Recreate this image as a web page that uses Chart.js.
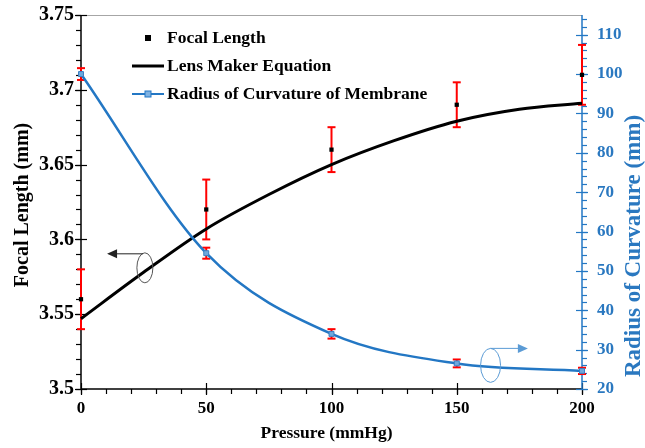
<!DOCTYPE html>
<html>
<head>
<meta charset="utf-8">
<script src="https://cdn.jsdelivr.net/npm/chart.js@4.4.1/dist/chart.umd.min.js"></script>
<style>
    html, body { margin: 0; padding: 0; background: #fff; }
    #wrap { width: 645px; height: 448px; position: relative; }
</style>
</head>
<body>
<div id="wrap"><canvas id="focal-chart"></canvas></div>
<script>
// --- Data ---
const pressure = [0, 50, 100, 150, 200];
const focalLength = [3.56, 3.62, 3.66, 3.69, 3.71];
const focalError = [0.02, 0.02, 0.015, 0.015, 0.02];

const lensPressure = [0, 25, 50, 75, 100, 125, 150, 175, 200];
const lensMaker = [3.547, 3.578, 3.607, 3.630, 3.650, 3.666, 3.679, 3.687, 3.691];

const radius = [100, 54.5, 34, 26.5, 24.6];
const radiusError = [1.5, 1.4, 1.2, 1, 0.8];

const xTicks = [0, 50, 100, 150, 200];
const yTicks = [3.5, 3.55, 3.6, 3.65, 3.7, 3.75];
const y2Ticks = [20, 30, 40, 50, 60, 70, 80, 90, 100, 110];

const BLUE = '#2377c4';
const BLUE_TEXT = '#2a78c0';
const FONT = '"Liberation Serif", "Times New Roman", serif';

const runPage = () => {
    const toPoints = (xs, ys) => xs.map((x, i) => ({ x, y: ys[i] }));
    const fixTicks = list => scale => { scale.ticks = list.map(v => ({ value: v })); };
    const noPad = size => scale => {
        Object.assign(scale, size);
        scale.paddingTop = 0;
        scale.paddingBottom = 0;
        scale.paddingLeft = 0;
        scale.paddingRight = 0;
    };

    // --- Axes, ticks, error bars, legend, titles and the two arrow notes ---
    const decor = {
        id: 'decor',
        beforeDatasetsDraw(chart) {
            const { ctx, chartArea: a, scales } = chart;
            const { x, y, y2 } = scales;
            ctx.save();

            // frame top line
            ctx.strokeStyle = '#a6a6a6';
            ctx.lineWidth = 1;
            ctx.beginPath();
            ctx.moveTo(a.left, a.top + 0.5);
            ctx.lineTo(a.right, a.top + 0.5);
            ctx.stroke();

            const tick = (x1, y1, x2, y2p) => {
                ctx.beginPath();
                ctx.moveTo(x1, y1);
                ctx.lineTo(x2, y2p);
                ctx.stroke();
            };

            // left axis
            ctx.strokeStyle = '#000';
            ctx.lineWidth = 1.5;
            tick(a.left, a.top, a.left, a.bottom);
            ctx.lineWidth = 1.2;
            for (let v = 3.5; v <= 3.7501; v += 0.01) {
                const p = Math.round(y.getPixelForValue(v)) + 0.5;
                tick(a.left - 5, p, a.left, p);
            }
            yTicks.forEach(v => {
                const p = Math.round(y.getPixelForValue(v)) + 0.5;
                tick(a.left - 6, p, a.left + 6, p);
            });

            // bottom axis
            ctx.lineWidth = 1.5;
            tick(a.left, a.bottom, a.right, a.bottom);
            ctx.lineWidth = 1.2;
            for (let v = 0; v <= 200; v += 10) {
                const p = Math.round(x.getPixelForValue(v)) + 0.5;
                tick(p, a.bottom, p, a.bottom + 5);
            }
            xTicks.forEach(v => {
                const p = Math.round(x.getPixelForValue(v)) + 0.5;
                tick(p, a.bottom - 6, p, a.bottom + 6);
            });

            // right axis
            ctx.strokeStyle = BLUE;
            ctx.lineWidth = 1.5;
            tick(a.right, a.top, a.right, a.bottom);
            ctx.lineWidth = 1.2;
            for (let v = 20; v <= 115; v += 2) {
                const p = Math.round(y2.getPixelForValue(v)) + 0.5;
                tick(a.right, p, a.right + 5, p);
            }
            y2Ticks.forEach(v => {
                const p = Math.round(y2.getPixelForValue(v)) + 0.5;
                tick(a.right - 6, p, a.right + 6, p);
            });

            // red error bars
            ctx.strokeStyle = '#ff0000';
            ctx.lineWidth = 2;
            const errBar = (scale, px, val, err) => {
                const top = scale.getPixelForValue(val + err);
                const bot = scale.getPixelForValue(val - err);
                tick(px, top, px, bot);
                tick(px - 4, top, px + 4, top);
                tick(px - 4, bot, px + 4, bot);
            };
            pressure.forEach((p, i) => {
                const px = x.getPixelForValue(p);
                errBar(y, px, focalLength[i], focalError[i]);
                errBar(y2, px, radius[i], radiusError[i]);
            });
            ctx.restore();
        },
        afterDraw(chart) {
            const { ctx, chartArea: a, scales } = chart;
            const { x, y, y2 } = scales;
            const sets = chart.data.datasets;
            ctx.save();

            // legend
            ctx.font = `bold 17.5px ${FONT}`;
            ctx.textBaseline = 'middle';
            ctx.textAlign = 'left';
            ctx.fillStyle = '#000';
            const lx = a.left + 51;
            const tx = a.left + 86;
            const rows = [a.top + 23, a.top + 51, a.top + 79];
            ctx.fillRect(a.left + 64, rows[0] - 3, 6, 6);
            ctx.fillText(sets[0].label, tx, rows[0]);
            ctx.strokeStyle = '#000';
            ctx.lineWidth = 3;
            ctx.beginPath();
            ctx.moveTo(lx, rows[1]);
            ctx.lineTo(lx + 32, rows[1]);
            ctx.stroke();
            ctx.fillText(sets[1].label, tx, rows[1]);
            ctx.strokeStyle = BLUE;
            ctx.lineWidth = 2;
            ctx.beginPath();
            ctx.moveTo(lx, rows[2]);
            ctx.lineTo(lx + 32, rows[2]);
            ctx.stroke();
            ctx.fillStyle = '#7fb2e2';
            ctx.fillRect(lx + 13, rows[2] - 3, 6, 6);
            ctx.lineWidth = 1;
            ctx.strokeRect(lx + 13, rows[2] - 3, 6, 6);
            ctx.fillStyle = '#000';
            ctx.fillText(sets[2].label, tx, rows[2]);

            // axis titles
            ctx.textAlign = 'center';
            ctx.fillText('Pressure (mmHg)', (a.left + a.right) / 2 - 5, 433);
            ctx.font = `bold 20px ${FONT}`;
            ctx.save();
            ctx.translate(23, 205);
            ctx.rotate(-Math.PI / 2);
            ctx.fillText('Focal Length (mm)', 0, 0);
            ctx.restore();
            ctx.save();
            ctx.font = `bold 23px ${FONT}`;
            ctx.fillStyle = BLUE_TEXT;
            ctx.translate(634, 246);
            ctx.rotate(-Math.PI / 2);
            ctx.fillText('Radius of Curvature (mm)', 0, 0);
            ctx.restore();

            // arrow notes
            const arrow = (x0, x1, yy, color) => {
                ctx.strokeStyle = color;
                ctx.fillStyle = color;
                ctx.lineWidth = 1;
                const dir = Math.sign(x1 - x0);
                ctx.beginPath();
                ctx.moveTo(x0, yy);
                ctx.lineTo(x1 - dir * 8, yy);
                ctx.stroke();
                ctx.beginPath();
                ctx.moveTo(x1, yy);
                ctx.lineTo(x1 - dir * 10, yy - 4.5);
                ctx.lineTo(x1 - dir * 10, yy + 4.5);
                ctx.closePath();
                ctx.fill();
            };
            const ellipse = (cx, cy, rx, ry, color) => {
                ctx.strokeStyle = color;
                ctx.lineWidth = 1;
                ctx.beginPath();
                ctx.ellipse(cx, cy, rx, ry, 0, 0, Math.PI * 2);
                ctx.stroke();
            };
            const lcx = x.getPixelForValue(25.5);
            const lcy = y.getPixelForValue(3.581);
            ellipse(lcx, lcy, 8, 15, '#555');
            arrow(lcx - 2, x.getPixelForValue(10.4), lcy - 14, '#222');
            const rcx = x.getPixelForValue(163.5);
            const rcy = y2.getPixelForValue(26);
            ellipse(rcx, rcy, 10, 17, '#5b9bd5');
            arrow(rcx, x.getPixelForValue(178.4), rcy - 17, '#5b9bd5');

            ctx.restore();
        }
    };

    const ctx = document.getElementById('focal-chart').getContext('2d');
    new Chart(ctx, {
        type: 'line',
        data: {
            datasets: [
                {
                    label: 'Focal Length',
                    data: toPoints(pressure, focalLength),
                    yAxisID: 'y',
                    showLine: false,
                    pointStyle: 'rect',
                    pointRadius: 3,
                    backgroundColor: '#000',
                    borderColor: '#000',
                    borderWidth: 0,
                    clip: false,
                    order: 0
                },
                {
                    label: 'Lens Maker Equation',
                    data: toPoints(lensPressure, lensMaker),
                    yAxisID: 'y',
                    borderColor: '#000',
                    borderWidth: 3,
                    pointRadius: 0,
                    cubicInterpolationMode: 'monotone',
                    clip: false,
                    order: 2
                },
                {
                    label: 'Radius of Curvature of Membrane',
                    data: toPoints(pressure, radius),
                    yAxisID: 'y2',
                    borderColor: BLUE,
                    borderWidth: 2.5,
                    pointStyle: 'rect',
                    pointRadius: 3.5,
                    pointBackgroundColor: '#6fa8dc',
                    pointBorderColor: '#3a7fc4',
                    pointBorderWidth: 1,
                    cubicInterpolationMode: 'monotone',
                    clip: false,
                    order: 1
                }
            ]
        },
        options: {
            responsive: true,
            maintainAspectRatio: false,
            animation: false,
            layout: { padding: { top: 15, left: 0, right: 0, bottom: 0 } },
            plugins: {
                legend: { display: false },
                tooltip: { enabled: false }
            },
            scales: {
                x: {
                    type: 'linear',
                    min: 0,
                    max: 200,
                    afterBuildTicks: fixTicks(xTicks),
                    afterFit: noPad({ height: 59 }),
                    grid: { display: false, drawTicks: false },
                    border: { display: false },
                    ticks: {
                        padding: 9,
                        color: '#000',
                        font: { family: FONT, size: 17, weight: 'bold' }
                    }
                },
                y: {
                    position: 'left',
                    min: 3.5,
                    max: 3.75,
                    afterBuildTicks: fixTicks(yTicks),
                    afterFit: noPad({ width: 81 }),
                    grid: { display: false, drawTicks: false },
                    border: { display: false },
                    ticks: {
                        padding: 7,
                        color: '#000',
                        callback: v => String(v),
                        font: { family: FONT, size: 20, weight: 'bold' }
                    }
                },
                y2: {
                    position: 'right',
                    min: 20,
                    max: 115,
                    afterBuildTicks: fixTicks(y2Ticks),
                    afterFit: noPad({ width: 63 }),
                    grid: { display: false, drawTicks: false },
                    border: { display: false },
                    ticks: {
                        padding: 15,
                        color: BLUE_TEXT,
                        font: { family: FONT, size: 17, weight: 'bold' }
                    }
                }
            }
        },
        plugins: [decor]
    });
};

runPage();
</script>
</body>
</html>
